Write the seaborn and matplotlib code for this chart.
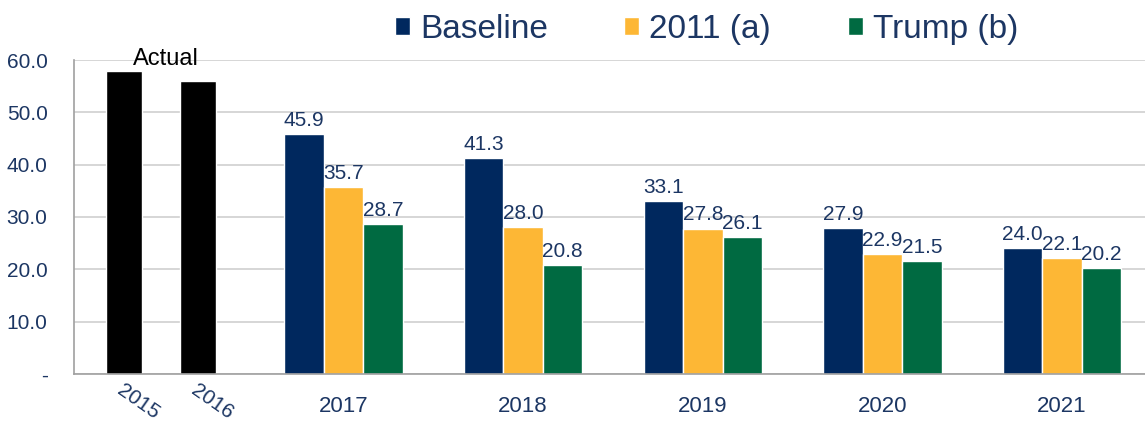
import numpy as np
import pandas as pd
import matplotlib
matplotlib.use("Agg")
import matplotlib.pyplot as plt
from matplotlib import font_manager
import seaborn as sns

# Data
actual_years = ['2015', '2016']
actual = [57.9, 56.0]

years = ['2017', '2018', '2019', '2020', '2021']
baseline = [45.9, 41.3, 33.1, 27.9, 24.0]
scen_2011 = [35.7, 28.0, 27.8, 22.9, 22.1]
trump = [28.7, 20.8, 26.1, 21.5, 20.2]

scenarios = ['Baseline', '2011 (a)', 'Trump (b)']
colors = ['#00285e', '#fdb735', '#006a41']
text_col = '#1c3663'

df = pd.DataFrame({
    'year': years * 3,
    'value': baseline + scen_2011 + trump,
    'scenario': [s for s in scenarios for _ in years],
})

sns.set_style('white')
names = {f.name for f in font_manager.fontManager.ttflist}
font = 'Liberation Sans Narrow' if 'Liberation Sans Narrow' in names else 'Liberation Sans'
plt.rcParams['font.family'] = [font, 'DejaVu Sans']

fig = plt.figure(figsize=(11.45, 4.25), dpi=100)
ax = fig.add_axes([74 / 1145, 1 - 374 / 425, 1078 / 1145, 314 / 425])

# forecast bars, leave first slot for actuals
sns.barplot(data=df, x='year', y='value', hue='scenario', order=['Actual'] + years,
            hue_order=scenarios, palette=colors, saturation=1, width=0.66,
            errorbar=None, legend=True, ax=ax)

for cont in ax.containers[:3]:
    ax.bar_label(cont, fmt='%.1f', padding=3, fontsize=15, color=text_col)

# actual bars inside the first slot
actual_pos = [-0.224, 0.188]
ax.bar(actual_pos, actual, width=0.2, color='black')
ax.text(0.012, 59.0, 'Actual', ha='center', va='baseline', fontsize=17, color='black')

ax.set_xlim(-0.5, 5.5)
ax.set_ylim(0, 60)
ax.set_yticks(np.arange(0, 61, 10))
ax.set_yticklabels(['-'] + [f'{v:.1f}' for v in np.arange(10, 61, 10)],
                   fontsize=15, color=text_col)
ax.yaxis.grid(True, color='#d0d0d0', lw=1.2)
ax.set_axisbelow(True)

# separators between groups
ax.set_xticks(np.arange(-0.5, 6, 1))
ax.set_xticklabels([])
ax.tick_params(axis='x', length=7, color='#a0a0a0', direction='out')
ax.tick_params(axis='y', length=7, color='#a0a0a0', direction='out', pad=12)
ax.set_xlabel('')
ax.set_ylabel('')

# year labels
tr = ax.get_xaxis_transform()
for i, y in enumerate(years):
    ax.text(i + 1, -0.07, y, transform=tr, ha='center', va='top', fontsize=16, color=text_col)
for p, y in zip(actual_pos, actual_years):
    ax.text(p + 0.08, -0.02, y, transform=tr, ha='center', va='top', rotation=-35,
            fontsize=15, color=text_col)

for s in ['top', 'right']:
    ax.spines[s].set_visible(False)
for s in ['left', 'bottom']:
    ax.spines[s].set_color('#a0a0a0')
    ax.spines[s].set_linewidth(1.2)

# legend
handles, labels = ax.get_legend_handles_labels()
ax.get_legend().remove()
leg = fig.legend(handles[:3], labels[:3], loc='center', bbox_to_anchor=(0.617, 0.93),
                 ncol=3, frameon=False, fontsize=24, handlelength=0.45, handleheight=0.45,
                 handletextpad=0.3, columnspacing=2.3)
for t in leg.get_texts():
    t.set_color(text_col)

fig.savefig('out.png', dpi=100)
